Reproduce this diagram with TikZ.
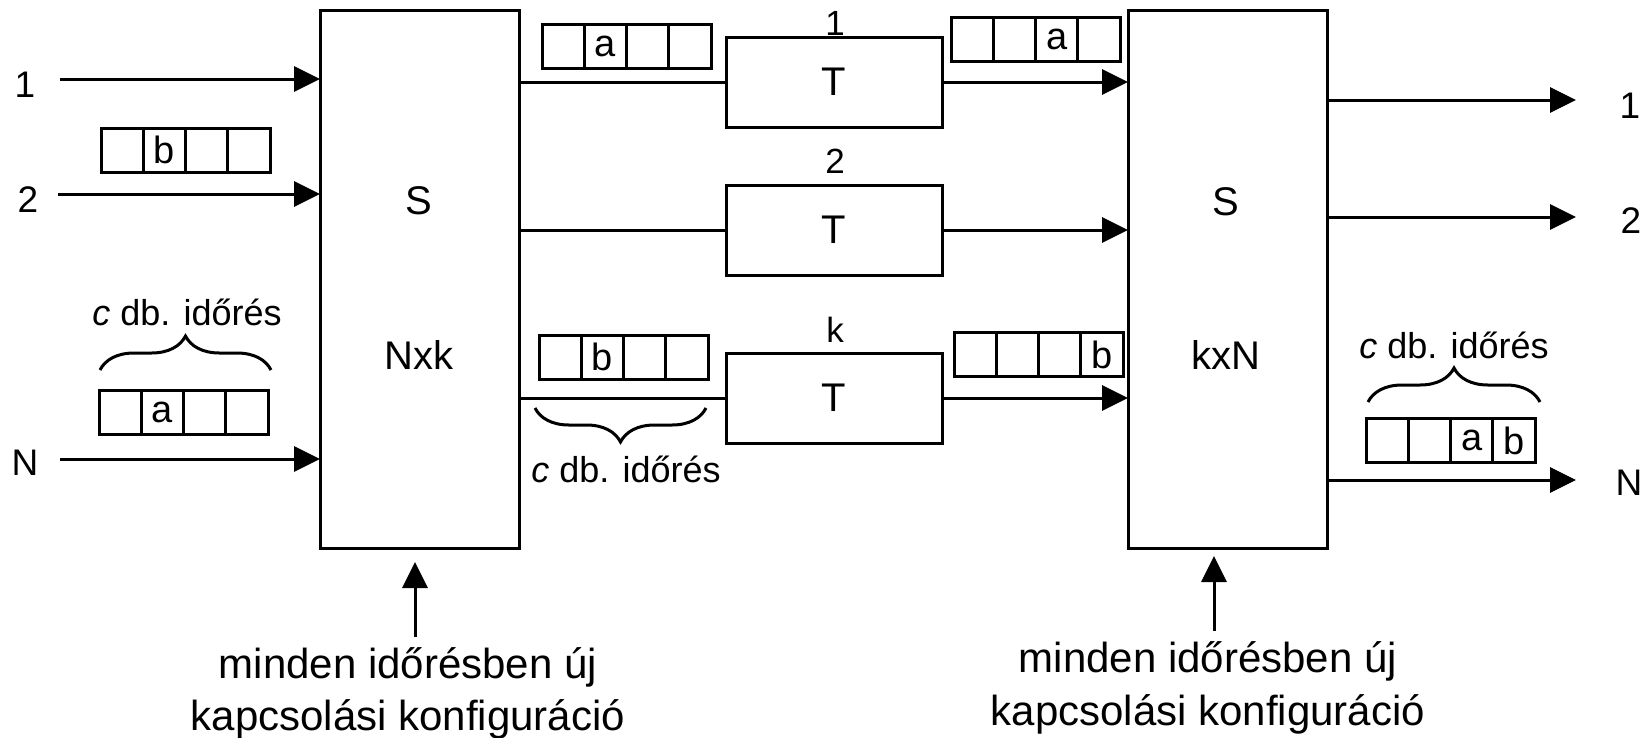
\documentclass[tikz,border=0pt]{standalone}
\usepackage{fontspec}
\setmainfont{Liberation Sans}
\usetikzlibrary{arrows.meta,decorations.pathreplacing}
\newcommand\mybuf[7]{%
  \node[cell] (#1-1) at (#2+21.125,#3) {#4};
  \node[cell] (#1-2) at (#2+63.375,#3) {#5};
  \node[cell] (#1-3) at (#2+105.625,#3) {#6};
  \node[cell] (#1-4) at (#2+147.875,#3) {#7};
}
\begin{document}
\begin{tikzpicture}[x=1pt,y=-1pt, line width=3pt,
  box/.style={draw, inner sep=0pt, outer sep=0pt},
  cell/.style={draw, minimum width=42.25pt, minimum height=44pt, inner sep=0pt, outer sep=0pt, font=\fontsize{38}{44}\selectfont},
  lbl/.style={inner sep=0pt, outer sep=0pt},
  big/.style={lbl, font=\fontsize{40}{48}\selectfont},
  port/.style={lbl, font=\fontsize{37}{42}\selectfont},
  tl/.style={lbl, font=\fontsize{35}{40}\selectfont},
  cdb/.style={lbl, anchor=base, font=\fontsize{36}{42}\selectfont},
  ctl/.style={lbl, anchor=base, font=\fontsize{42}{50}\selectfont},
  arr/.style={-{Triangle[length=26pt,width=25pt]}},
  brc/.style={decorate, decoration={brace, amplitude=34pt}},
]
\useasboundingbox (0,0) rectangle (1645,737);

% switches
\node[box, minimum width=199pt, minimum height=538pt] (Sl) at (419.5,279) {};
\node[box, minimum width=199pt, minimum height=538pt] (Sr) at (1227.5,279) {};
\node[big] (SlS) at (419,201) {S};
\node[big] (SlN) at (419,355) {Nxk};
\node[big] (SrS) at (1226,202) {S};
\node[big] (SrN) at (1226,355) {kxN};

% T boxes
\node[box, minimum width=216pt, minimum height=90pt, font=\fontsize{40}{48}\selectfont] (T1) at (834,82) {T};
\node[box, minimum width=216pt, minimum height=90pt, font=\fontsize{40}{48}\selectfont] (T2) at (834,230) {T};
\node[box, minimum width=216pt, minimum height=90pt, font=\fontsize{40}{48}\selectfont] (Tk) at (834,398) {T};
\node[tl] (T1l) at (835,23) {1};
\node[tl] (T2l) at (835,161) {2};
\node[tl] (Tkl) at (835,330) {k};

% input ports
\node[port] (in1) at (25,85) {1};
\node[port] (in2) at (28,200) {2};
\node[port] (inN) at (25,463) {N};
\coordinate (i1) at (60,79);
\coordinate (i2) at (58,194);
\coordinate (iN) at (60,459);
\draw[arr] (i1) -- (Sl.west |- i1);
\draw[arr] (i2) -- (Sl.west |- i2);
\draw[arr] (iN) -- (Sl.west |- iN);

% middle lines
\draw (Sl.east |- T1) -- (T1.west);
\draw (Sl.east |- T2) -- (T2.west);
\draw (Sl.east |- Tk) -- (Tk.west);
\draw[arr] (T1.east) -- (Sr.west |- T1);
\draw[arr] (T2.east) -- (Sr.west |- T2);
\draw[arr] (Tk.east) -- (Sr.west |- Tk);

% output ports
\node[port] (out1) at (1630,106) {1};
\node[port] (out2) at (1631,221) {2};
\node[port] (outN) at (1629,483) {N};
\coordinate (o1) at (1576,100);
\coordinate (o2) at (1576,217);
\coordinate (oN) at (1576,480);
\draw[arr] (Sr.east |- o1) -- (o1);
\draw[arr] (Sr.east |- o2) -- (o2);
\draw[arr] (Sr.east |- oN) -- (oN);

% buffers
\mybuf{bi2}{101}{150}{}{b}{}{}
\mybuf{biN}{99}{412.5}{}{a}{}{}
\mybuf{bt1}{542}{46}{}{a}{}{}
\mybuf{bo1}{951}{39.5}{}{}{a}{}
\mybuf{btk}{539}{357}{}{b}{}{}
\mybuf{bok}{954}{354.5}{}{}{}{b}
\mybuf{boN}{1366}{440.5}{}{}{a}{b}

% braces
\draw[brc] (100,370) -- (271,370);
\node[cdb] (cdb1) at (187,325) {\textit{c} db. időrés};
\draw[brc] (706,408) -- (535,408);
\node[cdb] (cdb2) at (626,482) {\textit{c} db. időrés};
\draw[brc] (1368,402) -- (1540,402);
\node[cdb] (cdb3) at (1454,358) {\textit{c} db. időrés};

% control arrows and texts
\coordinate (cL) at (415,637);
\coordinate (cR) at (1214,631);
\draw[arr] (cL) -- (415,562);
\draw[arr] (cR) -- (1214,556);
\node[ctl] (ctlL1) at (408,678) {minden időrésben új};
\node[ctl] (ctlL2) at (408,730) {kapcsolási konfiguráció};
\node[ctl] (ctlR1) at (1208,672) {minden időrésben új};
\node[ctl] (ctlR2) at (1208,725) {kapcsolási konfiguráció};
\end{tikzpicture}
\end{document}
